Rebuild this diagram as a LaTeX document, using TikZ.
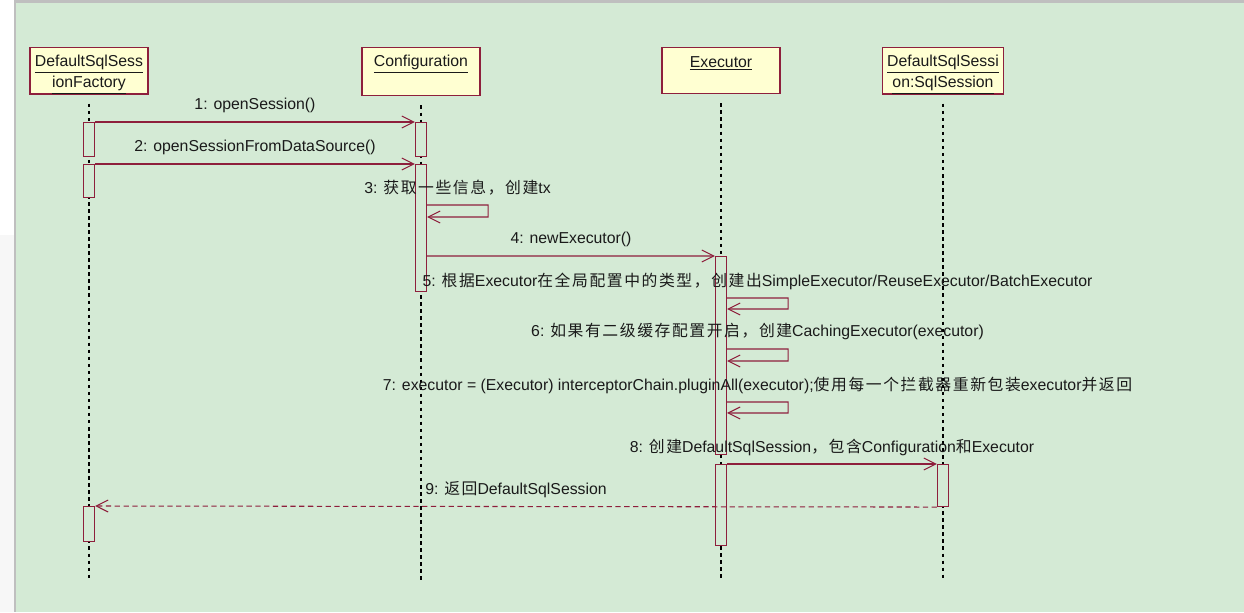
\documentclass[tikz,border=0pt]{standalone}
\usepackage{fontspec}
\setmainfont{Liberation Sans}
\newfontfamily\cjk[LetterSpace=10]{Noto Sans CJK SC}
\newcommand{\zh}[1]{{\cjk #1}}
\newcommand{\toprule}{\rule{0pt}{10.9pt}}
\usetikzlibrary{arrows.meta}
\definecolor{umlred}{HTML}{8E1F3C}
\definecolor{umlbg}{HTML}{D4EAD5}
\definecolor{umlbox}{HTML}{FFFFD2}
\definecolor{umltext}{HTML}{1A1A1A}

\begin{document}
\begin{tikzpicture}[x=0.02cm,y=-0.02cm,
  head/.style={draw=umlred, line width=0.8pt, fill=umlbox, text=umltext,
    minimum width=2.36cm, minimum height=0.92cm, anchor=north, align=center,
    inner xsep=1pt, inner ysep=0pt, font=\fontsize{9}{11.6}\selectfont},
  life/.style={black, line width=0.6pt, dash pattern=on 2pt off 2pt},
  bar/.style={draw=umlred, fill=umlbg, line width=0.6pt, minimum width=0.22cm,
    inner sep=0pt, anchor=north},
  msg/.style={umlred, line width=0.6pt, -{Straight Barb[length=0.24cm,width=0.24cm]}},
  ret/.style={msg, dash pattern=on 3pt off 2pt},
  lbl/.style={midway, yshift=0.34cm, text=umltext, inner sep=0pt,
    font=\fontsize{9}{11}\selectfont}]

% background
\fill[umlbg] (0,0) rectangle (1244,612);
\fill[gray!6] (0,0) rectangle (14,612);
\fill[white] (0,0) rectangle (14,235);
\fill[gray!50] (14,0) rectangle (16,612);
\fill[gray!50] (14,0) rectangle (1244,3);

% objects
\node[head] (dsf) at (89,47) {\toprule\underline{DefaultSqlSess}\\\underline{ionFactory}};
\node[head] (conf) at (421,47) {\toprule\underline{Configuration}\\\strut};
\node[head] (exec) at (721,47) {\toprule\underline{Executor}\\\strut};
\node[head, minimum width=2.42cm] (dss) at (943,47) {\toprule\underline{DefaultSqlSessi}\\\underline{on:SqlSession}};

\draw[life] ([yshift=-0.18cm]dsf.south) -- (dsf.south |- 0,580);
\draw[life] ([yshift=-0.18cm]conf.south) -- (conf.south |- 0,580);
\draw[life] ([yshift=-0.18cm]exec.south) -- (exec.south |- 0,580);
\draw[life] ([yshift=-0.18cm]dss.south) -- (dss.south |- 0,580);

% activations
\node[bar, minimum height=0.68cm] (dsfA) at (89,122) {};
\node[bar, minimum height=0.66cm] (dsfB) at (89,164) {};
\node[bar, minimum height=0.70cm] (dsfC) at (89,506) {};
\node[bar, minimum height=0.68cm] (confA) at (421,122) {};
\node[bar, minimum height=2.54cm] (confB) at (421,164) {};
\node[bar, minimum height=3.96cm] (execA) at (721,256) {};
\node[bar, minimum height=1.62cm] (execB) at (721,464) {};
\node[bar, minimum height=0.84cm] (dssA) at (943,464) {};

% messages
\draw[msg] (dsfA.north east) -- node[lbl] {1: openSession()} (confA.north west);
\draw[msg] (dsfB.north east) -- node[lbl] {2: openSessionFromDataSource()} (confB.north west);
\draw[msg] ([yshift=-0.82cm]confB.north east) -- node[lbl] {3: \zh{获取一些信息，创建}tx}
  ++(61,0) -- ++(0,12) -- ([yshift=-1.06cm]confB.north east);
\draw[msg] ([yshift=-1.84cm]confB.north east) -- node[lbl] {4: newExecutor()} (execA.north west);
\draw[msg] ([yshift=-0.84cm]execA.north east) -- node[lbl] {5: \zh{根据}Executor\zh{在全局配置中的类型，创建出}SimpleExecutor/ReuseExecutor/BatchExecutor}
  ++(61,0) -- ++(0,11) -- ([yshift=-1.06cm]execA.north east);
\draw[msg] ([yshift=-1.86cm]execA.north east) -- node[lbl] {6: \zh{如果有二级缓存配置开启，创建}CachingExecutor(executor)}
  ++(61,0) -- ++(0,12) -- ([yshift=-2.10cm]execA.north east);
\draw[msg] ([yshift=-2.92cm]execA.north east) -- node[lbl] {7: executor = (Executor) interceptorChain.pluginAll(executor);\zh{使用每一个拦截器重新包装}executor\zh{并返回}}
  ++(61,0) -- ++(0,11) -- ([yshift=-3.14cm]execA.north east);
\draw[msg] (execB.north east) -- node[lbl] {8: \zh{创建}DefaultSqlSession\zh{，包含}Configuration\zh{和}Executor} (dssA.north west);
\draw[ret] (dssA.south west) -- node[lbl] {9: \zh{返回}DefaultSqlSession} (dsfC.north east);

\end{tikzpicture}
\end{document}
